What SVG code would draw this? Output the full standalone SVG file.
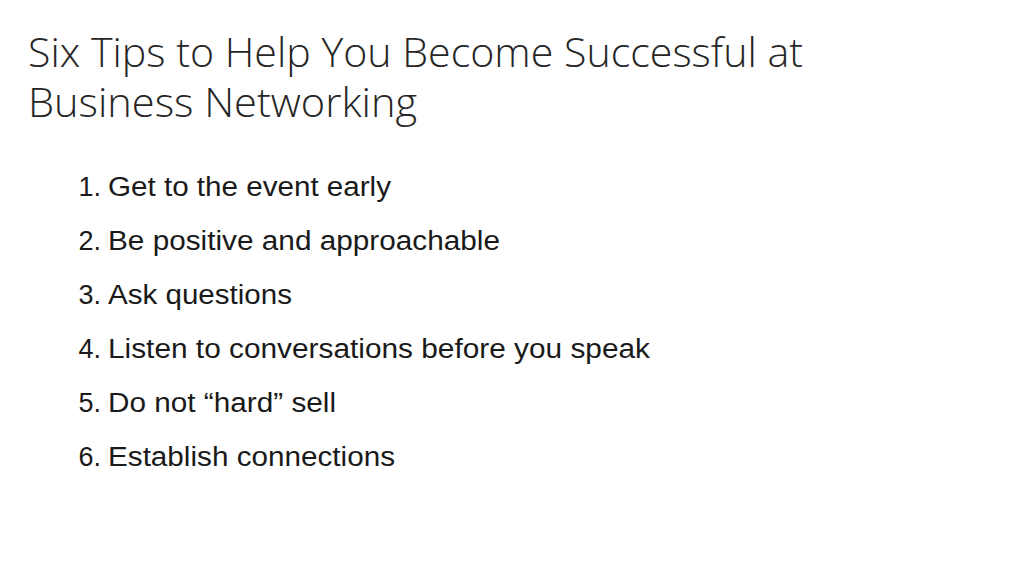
<svg xmlns="http://www.w3.org/2000/svg" width="1024" height="576" viewBox="0 0 1024 576">
<style>
.t{font-family:"Open Sans",Lato,sans-serif;font-weight:300;font-size:40px;fill:#262626}
.n{font-family:"Liberation Sans",Arial,sans-serif;font-size:27px;fill:#1a1a1a}
.num{text-anchor:end}
</style>
<rect width="1024" height="576" fill="#fff"/>
<text class="t" x="28" y="67" textLength="775" lengthAdjust="spacingAndGlyphs">Six Tips to Help You Become Successful at</text>
<text class="t" x="28" y="117" textLength="389" lengthAdjust="spacingAndGlyphs">Business Networking</text>
<g class="n">
<text class="num" x="101" y="196">1.</text><text x="108" y="196" textLength="283" lengthAdjust="spacingAndGlyphs">Get to the event early</text>
<text class="num" x="101" y="250">2.</text><text x="108" y="250" textLength="392" lengthAdjust="spacingAndGlyphs">Be positive and approachable</text>
<text class="num" x="101" y="304">3.</text><text x="108" y="304" textLength="184" lengthAdjust="spacingAndGlyphs">Ask questions</text>
<text class="num" x="101" y="358">4.</text><text x="108" y="358" textLength="542" lengthAdjust="spacingAndGlyphs">Listen to conversations before you speak</text>
<text class="num" x="101" y="412">5.</text><text x="108" y="412" textLength="228" lengthAdjust="spacingAndGlyphs">Do not “hard” sell</text>
<text class="num" x="101" y="466">6.</text><text x="108" y="466" textLength="287" lengthAdjust="spacingAndGlyphs">Establish connections</text>
</g>
</svg>
